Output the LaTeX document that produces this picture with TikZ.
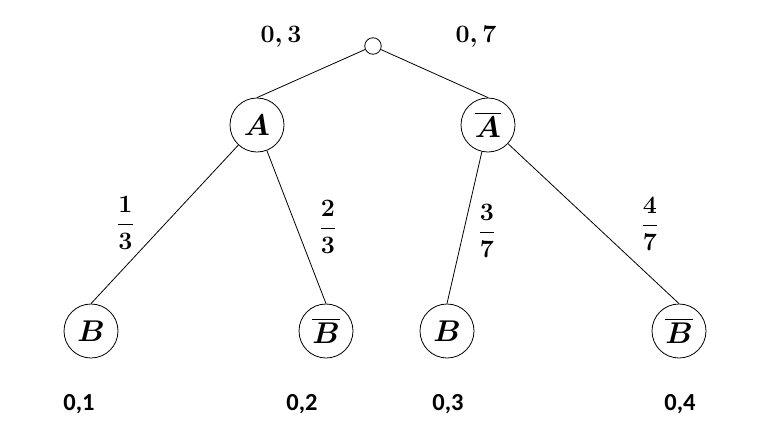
\RequirePackage{fix-cm}
\documentclass[tikz,border=0pt]{standalone}
\usepackage{amsmath}
\usepackage{fontspec}
\newfontfamily\calib{Carlito}
\begin{document}
\begin{tikzpicture}[x=1pt,y=-1pt,
  state/.style={draw,circle,minimum size=54pt,inner sep=0pt,line width=0.8pt,font=\fontsize{30}{34}\selectfont\boldmath},
  rootnode/.style={draw,circle,minimum size=16.5pt,inner sep=0pt,line width=0.8pt},
  edge/.style={line width=0.8pt},
  problbl/.style={inner sep=0pt,font=\fontsize{25}{30}\selectfont\boldmath},
  endlbl/.style={inner sep=0pt,font=\fontsize{24.5}{30}\selectfont\calib\bfseries}]
\useasboundingbox (0,0) rectangle (769,437);
\node[rootnode] (r) at (373,46) {};
\node[state] (A) at (257,125) {$A$};
\node[state] (Ab) at (488,125) {$\overline{A}$};
\node[state] (B1) at (91,331) {$B$};
\node[state] (Bb1) at (326,331) {$\overline{B}$};
\node[state] (B2) at (447,331) {$B$};
\node[state] (Bb2) at (679,331) {$\overline{B}$};
\draw[edge] (r) -- (A.north);
\draw[edge] (r) -- (Ab.north);
\draw[edge] (A) -- (B1.north);
\draw[edge] (A) -- (Bb1.north);
\draw[edge] (Ab) -- (B2.north);
\draw[edge] (Ab) -- (Bb2.north);
\node[problbl] (p1) at (281,37) {$0,3$};
\node[problbl] (p2) at (476,37) {$0,7$};
\node[problbl] (f1) at (125.5,223) {$\dfrac{1}{3}$};
\node[problbl] (f2) at (328,227) {$\dfrac{2}{3}$};
\node[problbl] (f3) at (487,231) {$\dfrac{3}{7}$};
\node[problbl] (f4) at (650,224) {$\dfrac{4}{7}$};
\node[endlbl] (e1) at (79,404) {0,1};
\node[endlbl] (e2) at (302,404) {0,2};
\node[endlbl] (e3) at (448,404) {0,3};
\node[endlbl] (e4) at (680,404) {0,4};
\end{tikzpicture}
\end{document}
